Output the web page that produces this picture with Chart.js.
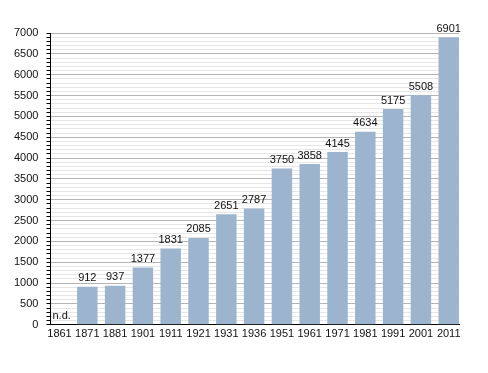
<!DOCTYPE html>
<html>
<head>
<meta charset="utf-8">
<script src="https://cdn.jsdelivr.net/npm/chart.js@4/dist/chart.umd.min.js"></script>
<style>
  html, body { margin: 0; padding: 0; background: #fff; }
  #wrap { width: 488px; height: 373px; }
</style>
</head>
<body>
<div id="wrap"><canvas id="bar-chart"></canvas></div>
<script>
const years = ['1861', '1871', '1881', '1901', '1911', '1921', '1931', '1936',
  '1951', '1961', '1971', '1981', '1991', '2001', '2011'];
const population = [null, 912, 937, 1377, 1831, 2085, 2651, 2787,
  3750, 3858, 4145, 4634, 5175, 5508, 6901];

// value labels above bars, "n.d." when missing
const barLabels = {
  id: 'barLabels',
  afterDatasetsDraw(chart) {
    const ctx = chart.ctx;
    const meta = chart.getDatasetMeta(0);
    ctx.save();
    ctx.font = '11px "Liberation Sans", Arial, sans-serif';
    ctx.fillStyle = '#111';
    ctx.textBaseline = 'bottom';
    population.forEach((v, i) => {
      if (v == null) {
        ctx.textAlign = 'left';
        ctx.fillText('n.d.', chart.chartArea.left + 2, chart.scales.y.getPixelForValue(0) - 3);
      } else {
        const bar = meta.data[i];
        ctx.textAlign = 'center';
        ctx.fillText(String(v), bar.x, bar.y - 3);
      }
    });
    ctx.restore();
  }
};

new Chart(document.getElementById('bar-chart'), {
  type: 'bar',
  data: {
    datasets: [{
      data: population.map((v, i) => ({ x: i, y: v })),
      backgroundColor: '#9db4cf',
      categoryPercentage: 0.8,
      barPercentage: 0.92
    }]
  },
  plugins: [barLabels],
  options: {
    responsive: true,
    maintainAspectRatio: false,
    animation: false,
    layout: { padding: { top: 33, right: 29, bottom: 29, left: 6 } },
    plugins: { legend: { display: false }, tooltip: { enabled: false } },
    scales: {
      x: {
        type: 'linear',
        offset: false,
        min: -0.325,
        max: 14.37,
        afterBuildTicks: scale => {
          scale.ticks = years.map((_, i) => ({ value: i }));
        },
        grid: { display: false, drawTicks: false, offset: false },
        border: { color: '#000', width: 1 },
        ticks: {
          color: '#111',
          padding: 3,
          maxRotation: 0,
          autoSkip: false,
          font: { family: '"Liberation Sans", Arial, sans-serif', size: 11 },
          callback: v => years[v] || ''
        }
      },
      y: {
        min: 0,
        max: 7000,
        border: { color: '#000', width: 1 },
        grid: {
          color: ctx => (ctx.tick && ctx.tick.value % 500 === 0) ? '#b4b4b4' : '#e6e6e6',
          tickColor: '#000',
          tickLength: 4
        },
        ticks: {
          stepSize: 100,
          autoSkip: false,
          color: '#111',
          padding: 8,
          font: { family: '"Liberation Sans", Arial, sans-serif', size: 11 },
          callback: v => (v % 500 === 0 ? String(v) : '')
        }
      }
    }
  }
});
</script>
</body>
</html>
